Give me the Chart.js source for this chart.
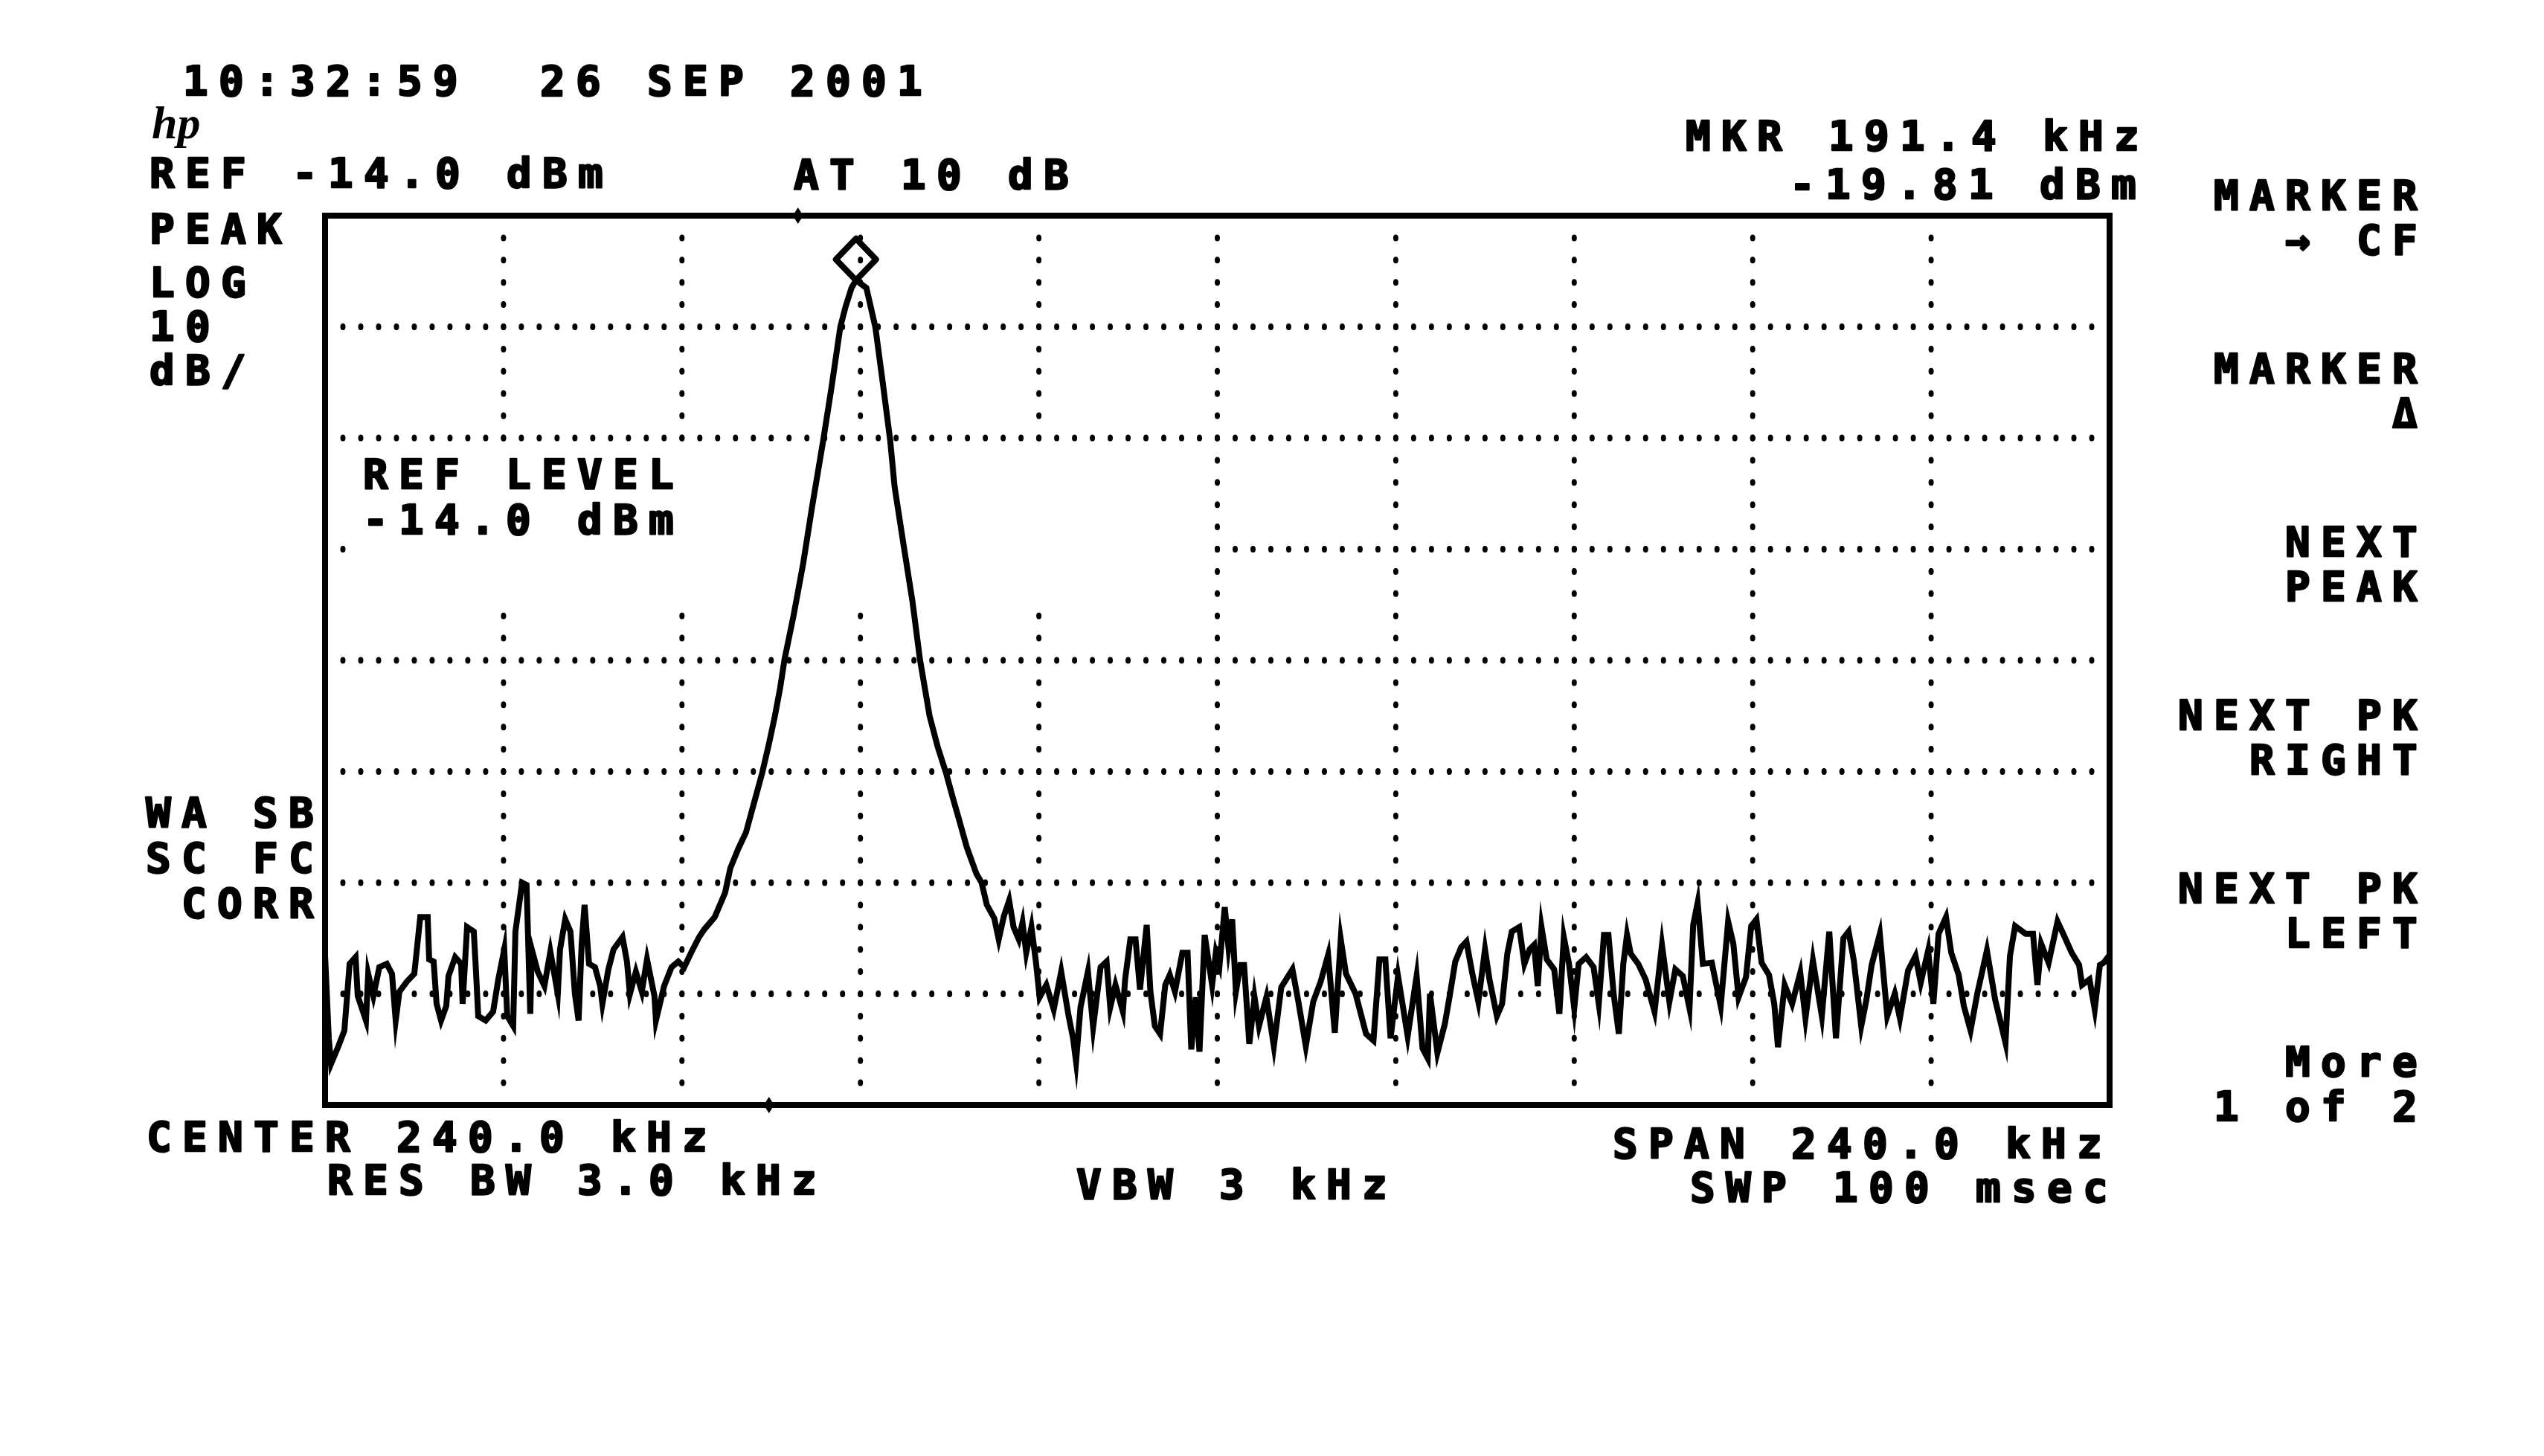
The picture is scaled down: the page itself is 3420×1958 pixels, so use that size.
<!DOCTYPE html>
<html>
<head>
<meta charset="utf-8">
<title>Spectrum analyzer plot</title>
<script src="https://cdn.jsdelivr.net/npm/chart.js@4.4.1/dist/chart.umd.min.js"></script>
<style>
html, body { margin:0; padding:0; background:#fff; }
#spec { display:block; }
</style>
</head>
<body>
<canvas id="spec" width="3420" height="1958"></canvas>
<script>
// sweep, kHz / dBm
const traceFreq = [
    120,120.5,120.8,121.8,122.6,123.3,124.1,124.4,125.5,125.8,126.5,127.3,128.3,129,129.5,130,131,132,132.8,133.8,
    134,134.6,135,135.6,136.3,136.6,137.5,138.3,138.5,139.1,140,140.3,140.6,141.6,142.6,143.3,144.1,144.5,145.3,145.6,
    146.5,147.1,147.6,147.8,148.6,149.5,150.3,151.3,151.6,152.3,153,153.6,154.1,154.5,154.9,155.5,156.3,157,157.3,158.1,
    158.8,160,160.6,161,161.8,162.6,163.3,164.3,164.5,165.6,166.6,167.5,168.3,169.3,170.3,171,172.4,173.8,174.5,175.6,
    176.6,177.7,178.8,179.7,180.5,181.2,181.8,183,184.3,185.5,186.3,187,188.1,189.3,190,190.8,191.4,192.8,194,195,
    196,196.6,197.8,199,200,201.3,202.4,203.5,204.4,205.3,206.3,207.6,208.3,209,210,210.6,211.3,212,212.6,213.3,
    213.8,214.3,215,215.6,216.1,217,218,219,220,220.6,221,221.6,222.6,223.3,224.3,225.1,225.6,226.3,227.3,227.6,
    228.3,229,229.6,230.5,231,231.6,232.3,233,233.6,234.3,235.3,236,236.5,237.1,237.6,238.3,239.3,239.8,240.3,241,
    241.5,242,242.5,243.1,243.6,244.3,245,245.6,246.6,247.6,248.6,250.1,250.9,251.9,252.9,253.9,254.9,255.8,256.6,257.3,
    258.6,260,261,261.8,262.6,263.3,264.3,265.6,266.8,267.6,268.3,268.6,269.6,270.6,271.3,272,272.8,273.5,274.3,275.1,
    276,276.6,277.6,278.3,279,279.6,280.6,281.3,282,282.6,283.1,283.6,284.3,285.3,286,286.6,287.3,288,288.6,289.6,
    290.6,291.3,292,292.6,293.3,294,294.6,295.1,295.6,296.6,297.6,298.8,299.8,300.8,301.6,302.6,303.5,304,304.6,305.3,
    306.5,307.7,308.7,309.4,310.1,311.1,311.8,312.5,313.2,314.2,314.9,315.4,316.3,317.3,318.4,319.1,320.1,321.3,322.3,323.2,
    324.2,324.9,325.6,326.6,327.3,328,329.1,330.1,331.1,331.8,332.9,333.9,334.6,335.6,336.3,337,338,338.7,339.7,340.4,
    341.3,342.2,343.5,344.6,346,346.6,347.3,348.7,349.7,350.3,350.8,351.8,353,353.9,354.9,355.9,356.3,357.3,358,358.7,
    359.2,360
];
const traceLevel = [
    -80.5,-88,-90.3,-88.7,-87.3,-81.3,-80.7,-84.2,-86.4,-82.2,-84.2,-81.6,-81.3,-82.2,-86.4,-83.8,-82.9,-82.2,-77.1,-77.1,
    -80.9,-81.1,-84.9,-86.4,-85.1,-82.4,-80.7,-81.3,-84.9,-78,-78.4,-82,-86,-86.4,-85.6,-82.7,-80,-86,-86.9,-78.4,
    -74,-74.2,-85.8,-80,-82,-83.3,-80.2,-84,-80,-77.3,-78.4,-84,-86.4,-79.6,-76,-81.3,-81.6,-83.3,-84.9,-81.8,
    -80,-78.9,-81.1,-84,-82,-83.8,-80.9,-84.2,-86.4,-83.3,-81.6,-81.1,-81.6,-80.2,-78.9,-78.2,-77.1,-74.9,-72.7,-70.9,
    -69.5,-66.8,-64.1,-61.5,-59,-56.5,-53.9,-50,-45.3,-40.2,-37,-34.2,-29.5,-24,-22.2,-20.5,-19.81,-20.5,-24,-29,
    -34.2,-38.4,-43.6,-48.7,-53.9,-59,-61.8,-64.1,-66.3,-68.4,-70.8,-73.2,-74,-76,-77.2,-79.1,-77,-75.6,-78,-79.1,
    -77.6,-80.3,-78,-81.1,-84.3,-83.2,-85.4,-82,-86,-88,-90.1,-85.2,-82,-87,-81.6,-81.1,-85.2,-83.2,-85.6,-82.7,
    -79.1,-79.1,-83.6,-77.8,-83.8,-86.9,-87.6,-83.2,-82.3,-83.8,-80.3,-80.3,-89,-84.3,-89.2,-78.7,-83.2,-80.3,-81.4,-76.2,
    -79.8,-77.3,-83.8,-81.4,-81.4,-88.5,-84.3,-86.9,-84.3,-88.7,-83.4,-81.8,-84.7,-88.7,-84.7,-82.9,-80.5,-87.5,-79.1,-82.2,
    -84,-87.6,-88.2,-80.9,-80.9,-88,-82.4,-87.8,-82.4,-88.9,-89.8,-84,-89.3,-86.7,-84,-81.1,-79.8,-79.3,-82.2,-84.7,
    -80,-82.7,-86,-84.9,-80.4,-78.4,-78,-81.3,-80,-79.6,-83.3,-78,-80.9,-81.8,-85.8,-78.9,-81.3,-85.3,-81.3,-80.7,
    -81.6,-84.9,-78.7,-78.7,-84,-87.6,-81.3,-78.7,-80.4,-81.3,-82.7,-85.6,-79.6,-84.7,-81.8,-82.4,-85.3,-77.8,-75.8,-81.3,
    -81.2,-85.1,-77.5,-79.5,-84.3,-82.5,-77.9,-77.3,-81.2,-82.3,-84.9,-88.8,-83.2,-84.9,-82.1,-86.2,-81,-86,-78.4,-88,
    -79,-78.4,-81,-86.9,-84.5,-81.4,-78.6,-86,-84,-86.2,-81.9,-80.6,-83,-80.1,-84.9,-78.6,-77.1,-80.3,-82.3,-85.1,
    -87.3,-84,-80.1,-84.5,-88.4,-80.6,-77.9,-78.6,-78.6,-83.2,-79.5,-81.2,-77.5,-78.8,-80.3,-81.4,-83.2,-82.7,-85.4,-81.4,
    -81.2,-80.5
];

const markerFreq = 191.4;
const markerLevel = -19.81;

const refLevel = -14;       // dBm, top line
const dbPerDiv = 10;
const vDivs = 8;
const centerFreq = 240;     // kHz
const spanFreq = 240;
const hDivs = 10;

const stamp = '10:32:59  26 SEP 2001';
const leftNotes = ['PEAK', 'LOG', '10', 'dB/'];
const corrNotes = ['WA SB', 'SC FC', ' CORR'];
const softKeys = [
    ['MARKER', '→ CF'],
    ['MARKER', 'Δ'],
    ['NEXT', 'PEAK'],
    ['NEXT PK', 'RIGHT'],
    ['NEXT PK', 'LEFT'],
    ['More', '1 of 2']
];
// little tick marks riding on the frame (kHz)
const topTickFreq = 183.6;
const bottomTickFreq = 179.7;

const startFreq = centerFreq - spanFreq / 2;
const stopFreq = centerFreq + spanFreq / 2;
const bottomLevel = refLevel - vDivs * dbPerDiv;
const fmt = v => v.toFixed(1);

const FONT = 'bold 56px "DejaVu Sans Mono"';
const PITCH = 48;
const CELL = 34;

function mono(ctx, str, x, y) {
    for (let i = 0; i < str.length; i++) {
        ctx.fillText(str[i], x + i * PITCH, y);
        ctx.strokeText(str[i], x + i * PITCH, y);
    }
}
function monoRight(ctx, str, right, y) {
    mono(ctx, str, right - CELL - (str.length - 1) * PITCH, y);
}

// dots of the graticule are missing behind the REF LEVEL note
function hidden(f, v) {
    return f > 123 && f < 239 && v < -34.5 && v > -49.5;
}

const graticule = {
    id: 'graticule',
    beforeDatasetsDraw(chart) {
        const {ctx, scales: {x, y}} = chart;
        ctx.save();
        ctx.fillStyle = '#000';
        const dot = (px, py) => {
            ctx.beginPath();
            ctx.ellipse(px, py, 3.5, 4.5, 0, 0, Math.PI * 2);
            ctx.fill();
        };
        const fStep = spanFreq / hDivs;
        for (let d = 1; d < vDivs; d++) {
            const v = refLevel - d * dbPerDiv;
            const py = y.getPixelForValue(v);
            for (let n = 1; n < hDivs * 10; n++) {
                const f = startFreq + n * fStep / 10;
                if (hidden(f, v)) continue;
                dot(x.getPixelForValue(f), py);
            }
        }
        for (let d = 1; d < hDivs; d++) {
            const f = startFreq + d * fStep;
            const px = x.getPixelForValue(f);
            for (let n = 1; n < vDivs * 5; n++) {
                const v = refLevel - n * dbPerDiv / 5;
                if (hidden(f, v)) continue;
                dot(px, y.getPixelForValue(v));
            }
        }
        ctx.restore();
    },
    afterDatasetsDraw(chart) {
        const {ctx, chartArea: a, scales: {x, y}} = chart;
        ctx.save();
        ctx.strokeStyle = '#000';
        ctx.fillStyle = '#000';
        ctx.lineWidth = 8;
        ctx.strokeRect(a.left, a.top, a.right - a.left, a.bottom - a.top);

        const tick = (px, py) => {
            ctx.beginPath();
            ctx.moveTo(px, py - 11);
            ctx.lineTo(px + 7, py);
            ctx.lineTo(px, py + 11);
            ctx.lineTo(px - 7, py);
            ctx.closePath();
            ctx.fill();
        };
        tick(x.getPixelForValue(topTickFreq), a.top);
        tick(x.getPixelForValue(bottomTickFreq), a.bottom);

        // marker diamond sitting on the peak
        const mx = x.getPixelForValue(markerFreq);
        const my = y.getPixelForValue(markerLevel);
        ctx.lineWidth = 8;
        ctx.lineJoin = 'round';
        ctx.beginPath();
        ctx.moveTo(mx, my);
        ctx.lineTo(mx + 27, my - 28);
        ctx.lineTo(mx, my - 56);
        ctx.lineTo(mx - 27, my - 28);
        ctx.closePath();
        ctx.stroke();

        ctx.font = FONT;
        ctx.lineWidth = 2.5;
        ctx.textBaseline = 'alphabetic';
        mono(ctx, stamp, 246, 128);
        mono(ctx, 'REF ' + fmt(refLevel) + ' dBm', 201, 252);
        mono(ctx, 'AT 10 dB', 1067, 254);
        mono(ctx, 'MKR ' + fmt(markerFreq) + ' kHz', 2266, 202);
        mono(ctx, markerLevel.toFixed(2) + ' dBm', 2406, 267);

        const leftBase = [327, 399, 458, 517];
        leftNotes.forEach((t, i) => mono(ctx, t, 201, leftBase[i]));
        corrNotes.forEach((t, i) => mono(ctx, t, 196, 1112 + i * 61));

        mono(ctx, 'REF LEVEL', 488, 657);
        mono(ctx, fmt(refLevel) + ' dBm', 488, 718);

        mono(ctx, 'CENTER ' + fmt(centerFreq) + ' kHz', 197, 1548);
        mono(ctx, 'RES BW 3.0 kHz', 440, 1606);
        mono(ctx, 'VBW 3 kHz', 1447, 1612);
        mono(ctx, 'SPAN ' + fmt(spanFreq) + ' kHz', 2168, 1557);
        mono(ctx, 'SWP 100 msec', 2272, 1616);

        softKeys.forEach((k, i) => {
            const base = 282 + i * 233;
            monoRight(ctx, k[0], 3250, base);
            monoRight(ctx, k[1], 3250, base + 60);
        });

        ctx.font = 'italic bold 62px "Liberation Serif"';
        ctx.fillText('hp', 204, 186);
        ctx.restore();
    }
};

new Chart(document.getElementById('spec'), {
    type: 'line',
    data: {
        datasets: [{
            label: 'Trace A',
            data: traceFreq.map((f, i) => ({x: f, y: traceLevel[i]})),
            borderColor: '#000',
            borderWidth: 8,
            pointRadius: 0,
            tension: 0,
            fill: false
        }]
    },
    options: {
        responsive: false,
        devicePixelRatio: 1,
        animation: false,
        layout: {padding: {left: 437, top: 290, right: 584, bottom: 472}},
        plugins: {legend: {display: false}, tooltip: {enabled: false}},
        scales: {
            x: {type: 'linear', min: startFreq, max: stopFreq, display: false},
            y: {type: 'linear', min: bottomLevel, max: refLevel, display: false}
        }
    },
    plugins: [graticule]
});
</script>
</body>
</html>
